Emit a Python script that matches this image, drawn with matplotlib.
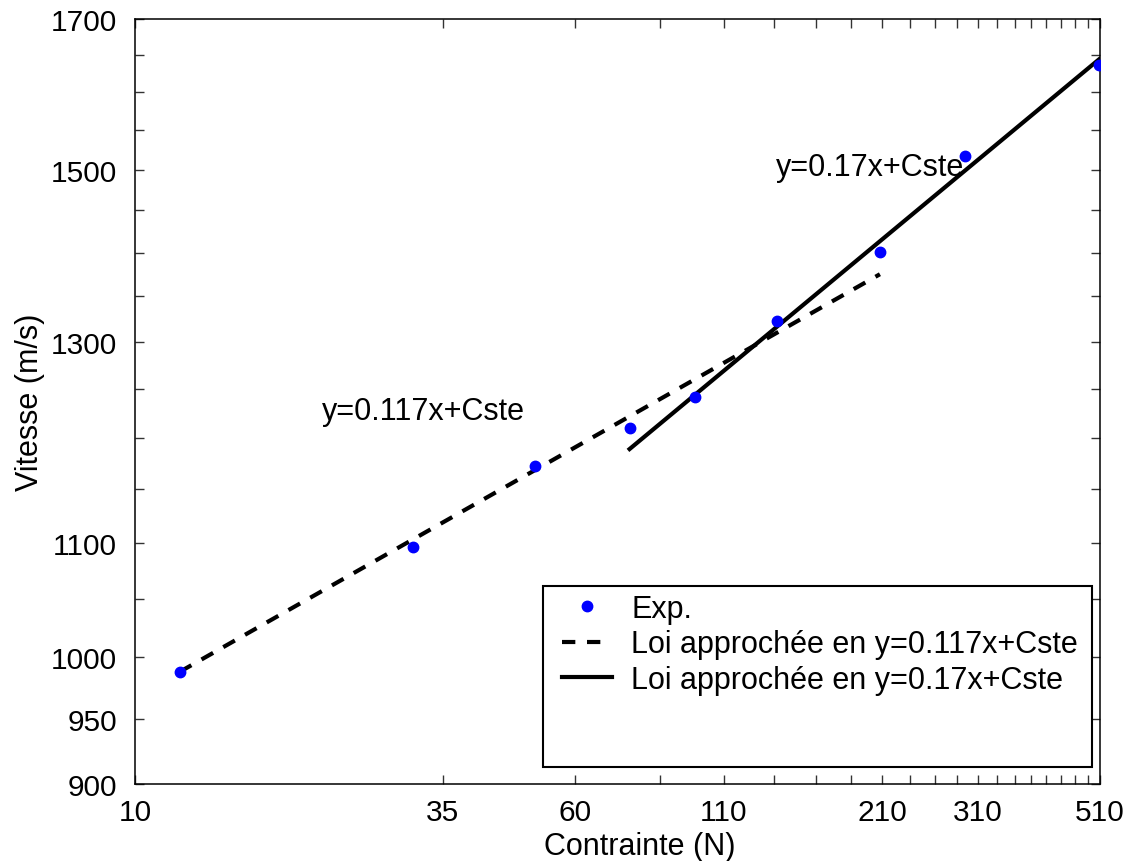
import numpy as np
import matplotlib
matplotlib.use('Agg')
import matplotlib.pyplot as plt
from matplotlib.patches import Rectangle
from matplotlib.ticker import FixedLocator, NullFormatter, FixedFormatter

plt.rcParams['font.family'] = ['Liberation Sans', 'DejaVu Sans']
plt.rcParams['font.size'] = 22

# experimental points
force = [12, 31, 51, 75, 98, 137, 208, 294, 508]
speed = [988, 1096, 1172, 1210, 1242, 1323, 1401, 1517, 1636]

# fitted laws (end points, straight on log-log)
fit1_x = [12, 208]
fit1_y = [988, 1375]
fit2_x = [75, 508]
fit2_y = [1189, 1644]

xticks = list(range(10, 511, 25))
xlabels = ['10', '35', '60', '110', '210', '310', '510']
yticks = list(range(900, 1701, 50))
ylabels = ['900', '950', '1000', '1100', '1300', '1500', '1700']

fig = plt.figure(figsize=(11.3, 8.62), dpi=100)
ax = fig.add_axes([0.1195, 0.0893, 0.854, 0.8875])

ax.plot(force, speed, 'o', color='#0000ff', markersize=7.5, zorder=3, label='Exp.')
ax.plot(fit1_x, fit1_y, color='black', lw=3, dashes=(3.2, 2.8), label='Loi approchée en y=0.117x+Cste')
ax.plot(fit2_x, fit2_y, color='black', lw=3, label='Loi approchée en y=0.17x+Cste')

ax.set_xscale('log')
ax.set_yscale('log')
ax.set_xlim(10, 510)
ax.set_ylim(900, 1700)

ax.xaxis.set_major_locator(FixedLocator([int(v) for v in xlabels]))
ax.xaxis.set_major_formatter(FixedFormatter(xlabels))
ax.xaxis.set_minor_locator(FixedLocator([v for v in xticks if str(v) not in xlabels]))
ax.xaxis.set_minor_formatter(NullFormatter())
ax.yaxis.set_major_locator(FixedLocator([int(v) for v in ylabels]))
ax.yaxis.set_major_formatter(FixedFormatter(ylabels))
ax.yaxis.set_minor_locator(FixedLocator([v for v in yticks if str(v) not in ylabels]))
ax.yaxis.set_minor_formatter(NullFormatter())

ax.tick_params(which='both', direction='in', top=True, right=True, length=6.5, width=1, color='#333333')
ax.tick_params(axis='x', which='major', pad=10, labelsize=21.5)
ax.tick_params(axis='y', which='major', pad=13, labelsize=21.5)
for s in ax.spines.values():
    s.set_linewidth(1.1)

ax.set_xlabel('Contrainte (N)', fontsize=22)
ax.xaxis.set_label_coords(0.523, -0.062)
ax.set_ylabel('Vitesse (m/s)', fontsize=22, labelpad=4)

ax.text(21.4, 1227, 'y=0.117x+Cste', ha='left', va='center', fontsize=22)
ax.text(136.3, 1503, 'y=0.17x+Cste', ha='left', va='center', fontsize=22)

# legend box is taller than its entries
box = Rectangle((0.4228, 0.0222), 0.9917 - 0.4228, 0.2588 - 0.0222, transform=ax.transAxes,
                facecolor='white', edgecolor='black', lw=1.5, zorder=4)
ax.add_patch(box)
leg = ax.legend(loc='upper left', bbox_to_anchor=(0.4425, 0.2482), frameon=False,
                fontsize=22, handlelength=1.65, handletextpad=0.62, labelspacing=0.17,
                borderpad=0, borderaxespad=0)
leg.set_zorder(5)

fig.savefig('out.png', dpi=100)
